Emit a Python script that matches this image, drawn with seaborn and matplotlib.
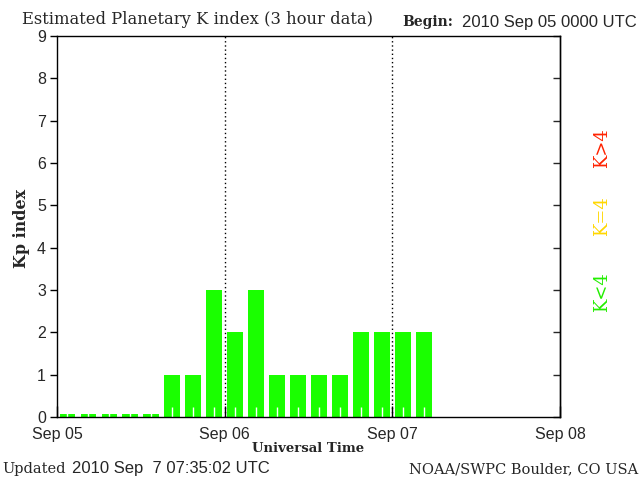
import numpy as np
import pandas as pd
import matplotlib
matplotlib.use("Agg")
import matplotlib.pyplot as plt
import seaborn as sns

# ---- data ----
slot_hours = [1.5, 4.5, 7.5, 10.5, 13.5, 16.5, 19.5, 22.5,
              25.5, 28.5, 31.5, 34.5, 37.5, 40.5, 43.5, 46.5,
              49.5, 52.5]
kp_values = [0, 0, 0, 0, 0, 1, 1, 3,
             2, 3, 1, 1, 1, 1, 2, 2,
             2, 2]
day_ticks = [0, 24, 48, 72]
day_labels = ["Sep 05", "Sep 06", "Sep 07", "Sep 08"]
y_ticks = list(range(10))

SERIF = "DejaVu Serif"
SANS = "Liberation Sans"
GREEN = "#1aff00"

sns.set_style("white")
plt.rcParams["font.family"] = [SANS, "DejaVu Sans"]
plt.rcParams["axes.axisbelow"] = False

fig = plt.figure(figsize=(6.4, 4.8), dpi=100)
ax = fig.add_axes([57/640, 1-417/480, (560-57)/640, (417-36)/480])
ax.set_axisbelow(False)

draw_vals = [v if v > 0 else 0.08 for v in kp_values]
df = pd.DataFrame({"hour": slot_hours, "kp": draw_vals})
sns.barplot(data=df, x="hour", y="kp", native_scale=True, width=0.75,
            color=GREEN, saturation=1, errorbar=None, linewidth=0, ax=ax)
for p in ax.patches:
    p.set_zorder(1)
ax.set_axisbelow(False)

ax.set_xlim(0, 72)
ax.set_ylim(0, 9)
for d in day_ticks[1:-1]:
    ax.axvline(d, color="black", lw=1, ls=(0, (1, 2)), zorder=3)

ax.set_xticks(day_ticks)
ax.set_xticklabels(day_labels, fontsize=11.5, family=SANS)
ax.set_xticks(slot_hours + [55.5, 58.5, 61.5, 64.5, 67.5, 70.5], minor=True)
ax.tick_params(axis="x", which="major", direction="in", length=8, width=1,
               color="black", pad=7, bottom=True, top=False)
ax.tick_params(axis="x", which="minor", direction="in", length=7, width=1,
               color="white", bottom=True, top=False)
ax.set_yticks(y_ticks)
ax.set_yticklabels([str(t) for t in y_ticks], fontsize=11.5, family=SANS)
ax.tick_params(axis="y", which="major", direction="out", length=5, width=1,
               color="black", pad=3, left=True, right=False)
ax.xaxis.set_zorder(4)
ax2 = ax.secondary_yaxis("right")
ax2.set_yticks(y_ticks)
ax2.tick_params(direction="in", length=5, width=1, right=True, labelright=False)
for s in ax.spines.values():
    s.set_visible(True)
    s.set_color("black")
    s.set_linewidth(1)
    s.set_zorder(5)
ax2.spines["right"].set_linewidth(1)

ax.set_xlabel("")
ax.set_ylabel("")

# texts
fig.text(22/640, 1-19/480, "Estimated Planetary K index (3 hour data)",
         family=SERIF, fontsize=11.8, va="center", ha="left")
fig.text(402/640, 1-22/480, "Begin:", family=SERIF, fontweight="bold",
         fontsize=10, va="center", ha="left")
fig.text(462/640, 1-22/480, "2010 Sep 05 0000 UTC", family=SANS,
         fontsize=12, va="center", ha="left")
fig.text(308/640, 1-448/480, "Universal Time", family=SERIF, fontweight="bold",
         fontsize=9.5, va="center", ha="center")
fig.text(22/640, 1-228/480, "Kp index", family=SERIF, fontweight="bold",
         fontsize=11.5, va="center", ha="center", rotation=90)
fig.text(2/640, 1-469/480, "Updated", family=SERIF, fontsize=10.5,
         va="center", ha="left")
fig.text(72/640, 1-469/480, "2010 Sep  7 07:35:02 UTC", family=SANS,
         fontsize=12, va="center", ha="left")
fig.text(638/640, 1-469/480, "NOAA/SWPC Boulder, CO USA", family=SERIF,
         fontsize=10.5, va="center", ha="right")
fig.text(602/640, 1-292/480, "K<4", family=SERIF, fontsize=13,
         color="#22ee00", va="center", ha="center", rotation=90)
fig.text(602/640, 1-216/480, "K=4", family=SERIF, fontsize=13,
         color="#ffd700", va="center", ha="center", rotation=90)
fig.text(602/640, 1-148/480, "K>4", family=SERIF, fontsize=13,
         color="#ff2200", va="center", ha="center", rotation=90)

fig.savefig("out.png", dpi=100, facecolor="white")
